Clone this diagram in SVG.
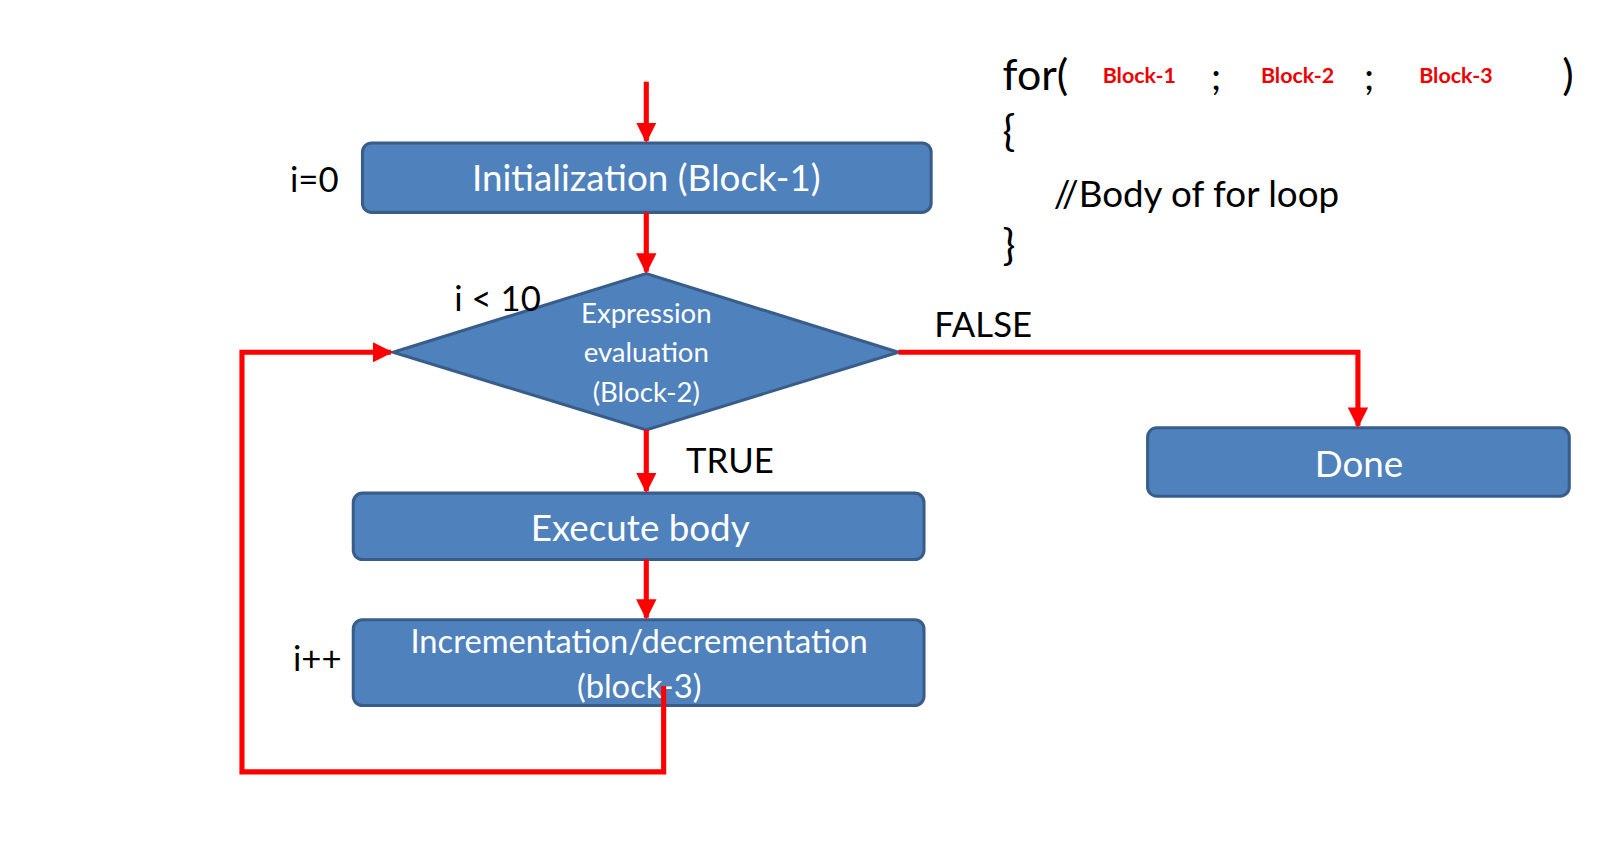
<svg xmlns="http://www.w3.org/2000/svg" width="1600" height="843" viewBox="0 0 1600 843">
<defs>
<style>
.n{fill:#4f81bd;stroke:#385d8a;stroke-width:3}
.w{fill:#fff;font-family:Lato,"Open Sans",sans-serif;text-anchor:middle}
.k{fill:#000;font-family:Lato,"Open Sans",sans-serif}
.r{fill:#e00;font-family:Lato,"Open Sans",sans-serif;font-weight:bold;font-size:21px}
.c{fill:none;stroke:#f00;stroke-width:5}
</style>
<marker id="a" viewBox="0 0 10 10" refX="9" refY="5" markerWidth="4" markerHeight="4" orient="auto"><path d="M0,0L10,5L0,10z" fill="#f00"/></marker>
</defs>
<rect width="1600" height="843" fill="#fff"/>
<g transform="scale(1.021)">
<g id="init"><rect class="n" x="355" y="140" width="557" height="68" rx="9"/><text class="w" x="633" y="187" font-size="36">Initialization (Block-1)</text></g>
<g id="cond"><polygon class="n" points="385,345 633,268 880,345 633,421"/><text class="w" x="633" y="316" font-size="27">Expression</text><text class="w" x="633" y="355" font-size="27">evaluation</text><text class="w" x="633" y="394" font-size="27">(Block-2)</text></g>
<g id="body"><rect class="n" x="346" y="483" width="559" height="65" rx="9"/><text class="w" x="627" y="530" font-size="36">Execute body</text></g>
<g id="inc"><rect class="n" x="346" y="607" width="559" height="84" rx="9"/><text class="w" x="626" y="640" font-size="32">Incrementation/decrementation</text><text class="w" x="626" y="684" font-size="32">(block-3)</text></g>
<g id="done"><rect class="n" x="1124" y="419" width="413" height="67" rx="9"/><text class="w" x="1331" y="467" font-size="36">Done</text></g>
<g id="connectors">
<line class="c" x1="633" y1="80" x2="633" y2="138" marker-end="url(#a)"/>
<line class="c" x1="633" y1="208" x2="633" y2="266" marker-end="url(#a)"/>
<line class="c" x1="633" y1="421" x2="633" y2="481" marker-end="url(#a)"/>
<line class="c" x1="633" y1="548" x2="633" y2="605" marker-end="url(#a)"/>
<polyline class="c" points="650,672 650,756 237,756 237,345 383,345" marker-end="url(#a)"/>
<polyline class="c" points="880,345 1330,345 1330,417" marker-end="url(#a)"/>
</g>
<text class="k" x="284" y="188" font-size="34">i=0</text>
<text class="k" x="445" y="305" font-size="34">i &lt; 10</text>
<text class="k" x="915" y="330" font-size="34">FALSE</text>
<text class="k" x="672" y="463" font-size="34">TRUE</text>
<text class="k" x="287" y="657" font-size="34">i++</text>
<text class="k" x="982" y="88" font-size="42">for(</text>
<text class="r" x="1080" y="81">Block-1</text>
<text class="k" x="1186" y="88" font-size="38">;</text>
<text class="r" x="1235" y="81">Block-2</text>
<text class="k" x="1336" y="88" font-size="38">;</text>
<text class="r" x="1390" y="81">Block-3</text>
<text class="k" x="1530" y="88" font-size="42">)</text>
<text class="k" x="982" y="143" font-size="42">{</text>
<text class="k" x="1032" y="203" font-size="36">//Body of for loop</text>
<text class="k" x="982" y="255" font-size="42">}</text>
</g>
</svg>
